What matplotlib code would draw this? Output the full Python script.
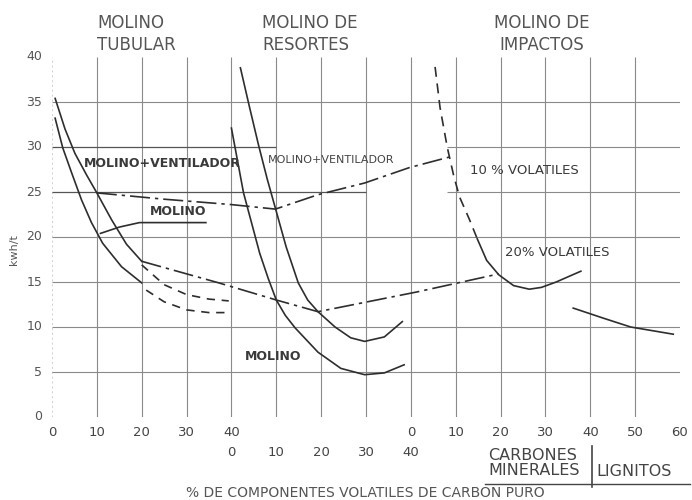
import matplotlib.pyplot as plt
import numpy as np

# escala continua: tubular 0-40, resortes 40-80, impactos 80-140
off_tub, off_res, off_imp = 0, 40, 80

# molino tubular
tub_vent_x = [0.7, 2.9, 5.1, 7.7, 10, 13.3, 16.6, 20]
tub_vent_y = [35.4, 32.0, 29.3, 26.9, 24.9, 21.9, 19.2, 17.3]
tub_mol_x = [0.7, 2.4, 4.4, 6.6, 8.8, 11.3, 15.5, 20]
tub_mol_y = [33.2, 29.9, 27.1, 24.1, 21.6, 19.3, 16.7, 14.9]
tub_ramp_x = [10.8, 15, 19.5, 34.3]
tub_ramp_y = [20.4, 21.1, 21.6, 21.6]
tub_dash1_x = [20, 25, 30, 35, 39.4]
tub_dash1_y = [16.9, 14.7, 13.6, 13.1, 12.9]
tub_dash2_x = [21, 25, 30, 35, 39.4]
tub_dash2_y = [14.1, 12.8, 11.9, 11.6, 11.6]

# molino de resortes
res_vent_x = [2.0, 4.0, 6.0, 8.0, 9.8, 12.2, 14.9, 17.0, 19.3, 23.1, 26.6, 29.7, 34.1, 38.1]
res_vent_y = [38.8, 34.5, 30.3, 26.4, 23.2, 18.9, 14.9, 13.0, 11.7, 10.0, 8.8, 8.4, 8.9, 10.6]
res_mol_x = [0.0, 2.7, 6.3, 8.2, 10, 12, 14.2, 19.3, 24.4, 29.7, 34.1, 38.5]
res_mol_y = [32.1, 24.9, 18.2, 15.4, 13.0, 11.3, 9.9, 7.2, 5.4, 4.7, 4.9, 5.8]

# molino de impactos
imp10_x = [5.4, 6.5, 8.1, 9.6, 10.9, 13.1, 14.8]
imp10_y = [38.9, 34.4, 30.0, 26.7, 24.4, 21.9, 19.8]
imp20_x = [14.8, 16.9, 19.6, 22.9, 26.4, 29.1, 32.4, 37.9]
imp20_y = [19.8, 17.4, 15.8, 14.6, 14.2, 14.4, 15.0, 16.2]
lig_x = [36.2, 42.8, 49, 58.5]
lig_y = [12.1, 11.0, 10.0, 9.2]

# lineas de trazo y punto (ya en escala continua)
vent_link_x = [10, 25, 40, 49.8, 59.3, 69.7, 79.6, 88.7]
vent_link_y = [24.9, 24.2, 23.6, 23.1, 24.7, 26.0, 27.7, 28.9]
mol_link_x = [20, 37.2, 50, 59.3, 81.4, 99.6]
mol_link_y = [17.3, 14.9, 13.0, 11.7, 13.9, 15.9]

row1_pos = [0, 10, 20, 30, 40, 80, 90, 100, 110, 120, 130, 140]
row1_lab = ['0', '10', '20', '30', '40', '0', '10', '20', '30', '40', '50', '60']
row2_pos = [40, 50, 60, 70, 80]
row2_lab = ['0', '10', '20', '30', '40']
y_ticks = [0, 5, 10, 15, 20, 25, 30, 35, 40]

W, H = 692, 500
fig = plt.figure(figsize=(W / 100, H / 100), dpi=100)
fig.patch.set_facecolor('white')
ax = fig.add_axes([52 / W, 1 - 417 / H, 628 / W, 360 / H])
ax.set_xlim(0, 140)
ax.set_ylim(0, 40)
for s in ax.spines.values():
    s.set_visible(False)
ax.set_xticks([])
ax.set_yticks([])

gcol = '#8a8a8a'
# grid (incompleta como en el original)
for x in range(10, 140, 10):
    ax.vlines(x, 0, 40, color=gcol, lw=0.8)
ax.vlines([0, 140], 0, 40, color='#cfcfcf', lw=0.7, linestyles=(0, (2, 3)))
ax.hlines(0, 0, 140, color='#c8c8c8', lw=0.7, linestyles=(0, (2, 3)))
for y in [5, 10, 15, 20, 35]:
    ax.hlines(y, 0, 140, color=gcol, lw=0.8)
ax.hlines(30, 0, 50, color='#555', lw=0.9)
ax.hlines(30, 88, 140, color=gcol, lw=0.8)
ax.hlines(25, 0, 70, color='#555', lw=0.9)
ax.hlines(25, 88, 140, color=gcol, lw=0.8)

lc = '#2e2e2e'
lw = 1.2
ax.plot(np.add(tub_vent_x, off_tub), tub_vent_y, color=lc, lw=lw)
ax.plot(np.add(tub_mol_x, off_tub), tub_mol_y, color=lc, lw=lw)
ax.plot(np.add(tub_ramp_x, off_tub), tub_ramp_y, color=lc, lw=lw)
ax.plot(np.add(tub_dash1_x, off_tub), tub_dash1_y, color=lc, lw=lw, ls=(0, (5, 4)))
ax.plot(np.add(tub_dash2_x, off_tub), tub_dash2_y, color=lc, lw=lw, ls=(0, (5, 4)))
ax.plot(np.add(res_vent_x, off_res), res_vent_y, color=lc, lw=lw)
ax.plot(np.add(res_mol_x, off_res), res_mol_y, color=lc, lw=lw)
ax.plot(np.add(imp10_x, off_imp), imp10_y, color=lc, lw=lw, ls=(0, (6, 4)))
ax.plot(np.add(imp20_x, off_imp), imp20_y, color=lc, lw=lw)
ax.plot(np.add(lig_x, off_imp), lig_y, color=lc, lw=lw)
ax.plot(vent_link_x, vent_link_y, color=lc, lw=lw, ls=(0, (12, 3, 2, 3)))
ax.plot(mol_link_x, mol_link_y, color=lc, lw=lw, ls=(0, (12, 3, 2, 3)))

tc = '#3a3a3a'
def ftext(px, py, s, **kw):
    kw.setdefault('color', tc)
    return fig.text(px / W, 1 - py / H, s, **kw)

# cabeceras
ftext(97, 34, 'MOLINO\nTUBULAR', fontsize=12, va='center', linespacing=1.3, color='#555')
ftext(262, 34, 'MOLINO DE\nRESORTES', fontsize=12, va='center', linespacing=1.3, color='#555')
ftext(542, 34, 'MOLINO DE\nIMPACTOS', fontsize=12, va='center', ha='center', linespacing=1.3, color='#555')

# etiquetas internas
ftext(84, 163, 'MOLINO+VENTILADOR', fontsize=9, fontweight='bold', va='center')
ftext(268, 160, 'MOLINO+VENTILADOR', fontsize=8, va='center', color='#444')
ftext(150, 212, 'MOLINO', fontsize=9, fontweight='bold', va='center')
ftext(245, 357, 'MOLINO', fontsize=9, fontweight='bold', va='center')
ftext(470, 170, '10 % VOLATILES', fontsize=9.5, va='center')
ftext(505, 253, '20% VOLATILES', fontsize=9.5, va='center')

# ejes
for yv in y_ticks:
    ax.text(-2.2, yv, str(yv), ha='right', va='center', fontsize=9, color='#555')
ftext(14, 250, 'kwh/t', rotation=90, ha='center', va='center', fontsize=8, color='#555')
for xv, lab in zip(row1_pos, row1_lab):
    ftext(52 + xv * 628 / 140, 432, lab, ha='center', va='center', fontsize=9.5, color='#444')
for xv, lab in zip(row2_pos, row2_lab):
    ftext(52 + xv * 628 / 140, 452, lab, ha='center', va='center', fontsize=9.5, color='#444')

ftext(488, 463, 'CARBONES\nMINERALES', fontsize=11.5, va='center', linespacing=0.95, color='#444')
ftext(596, 472, 'LIGNITOS', fontsize=11.5, va='center', color='#444')
fig.add_artist(plt.Line2D([592 / W, 592 / W], [1 - 446 / H, 1 - 487 / H], color='#444', lw=1.2))
fig.add_artist(plt.Line2D([485 / W, 690 / W], [1 - 484 / H, 1 - 484 / H], color='#444', lw=1.0))
ftext(365, 493, '% DE COMPONENTES VOLATILES DE CARBON PURO', ha='center', va='center',
      fontsize=10, color='#555')

fig.savefig('out.png', dpi=100)
